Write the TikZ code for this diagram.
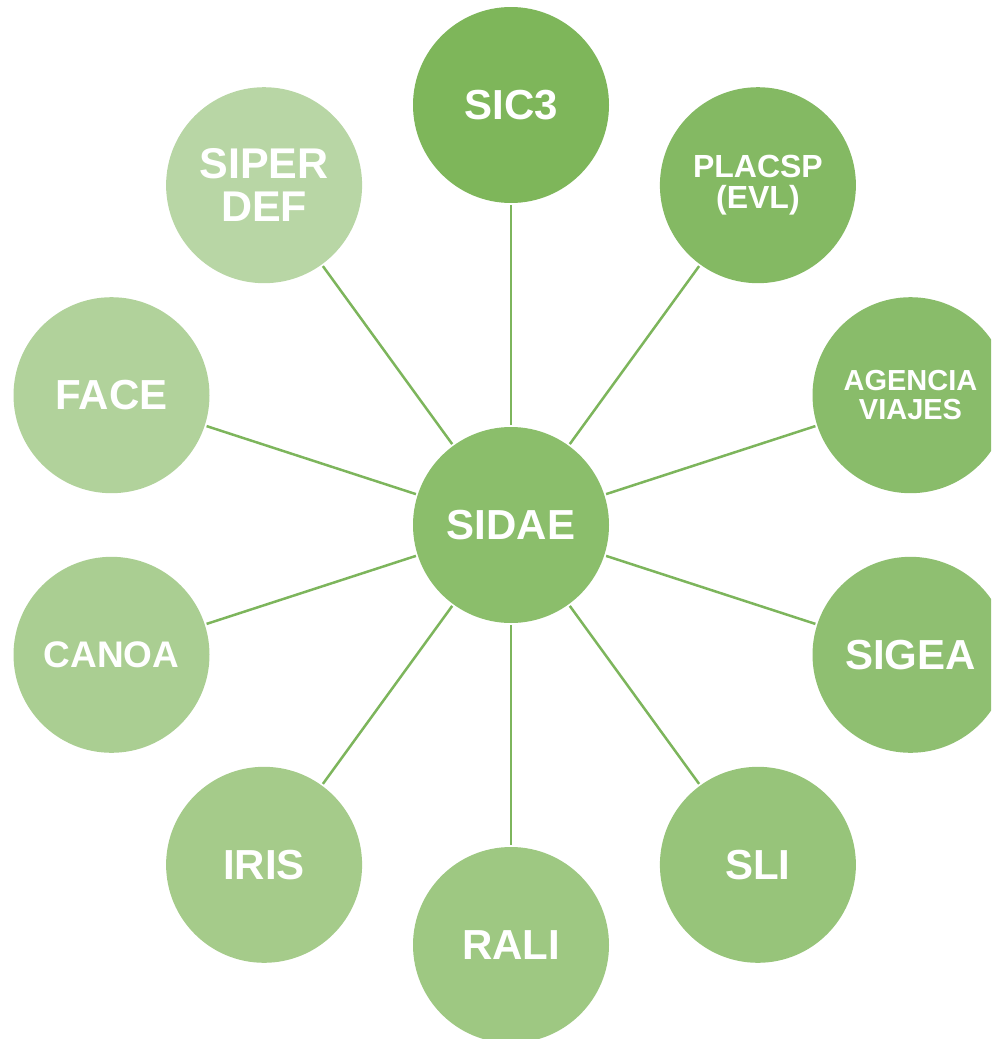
\documentclass[tikz,border=0pt]{standalone}
\usepackage{fontspec}
\setmainfont{Liberation Sans}
\definecolor{lineC}{HTML}{7DB55C}
\definecolor{cA}{HTML}{7EB65A}
\definecolor{cB}{HTML}{84B963}
\definecolor{cC}{HTML}{89BC6A}
\definecolor{cD}{HTML}{8FBF71}
\definecolor{cE}{HTML}{97C47A}
\definecolor{cF}{HTML}{9EC882}
\definecolor{cG}{HTML}{A5CB8A}
\definecolor{cH}{HTML}{AACE92}
\definecolor{cI}{HTML}{B1D29B}
\definecolor{cJ}{HTML}{B8D6A5}
\definecolor{cS}{HTML}{8BBE6B}
\begin{document}
\begin{tikzpicture}[x=1pt,y=-1pt,
  bub/.style={circle, minimum size=196pt, inner sep=0pt, outer sep=2pt, text=white, align=center, font=\bfseries\fontsize{42}{42}\selectfont},
  link/.style={draw=lineC, line width=2.5pt}]
\useasboundingbox (0,0) rectangle (991,1039);
\clip (0,0) rectangle (991,1039);
\node[bub, fill=cS] (sidae) at (511,525) {SIDAE};
\node[bub, fill=cA] (sic) at (511,105) {SIC3};
\node[bub, fill=cB, font=\bfseries\fontsize{32}{31}\selectfont] (placsp) at (757.9,185.2) {PLACSP\\(EVL)};
\node[bub, fill=cC, font=\bfseries\fontsize{29}{29}\selectfont] (agencia) at (910.5,395.2) {AGENCIA\\VIAJES};
\node[bub, fill=cD] (sigea) at (910.5,654.8) {SIGEA};
\node[bub, fill=cE] (sli) at (757.9,864.8) {SLI};
\node[bub, fill=cF] (rali) at (511,945) {RALI};
\node[bub, fill=cG] (iris) at (264.1,864.8) {IRIS};
\node[bub, fill=cH, font=\bfseries\fontsize{37}{37}\selectfont] (canoa) at (111.5,654.8) {CANOA};
\node[bub, fill=cI] (face) at (111.5,395.2) {FACE};
\node[bub, fill=cJ, font=\bfseries\fontsize{43}{43}\selectfont] (siper) at (264.1,185.2) {SIPER\\DEF};
\foreach \n in {sic,placsp,agencia,sigea,sli,rali,iris,canoa,face,siper}
  \draw[link] (sidae) -- (\n);
\end{tikzpicture}
\end{document}
